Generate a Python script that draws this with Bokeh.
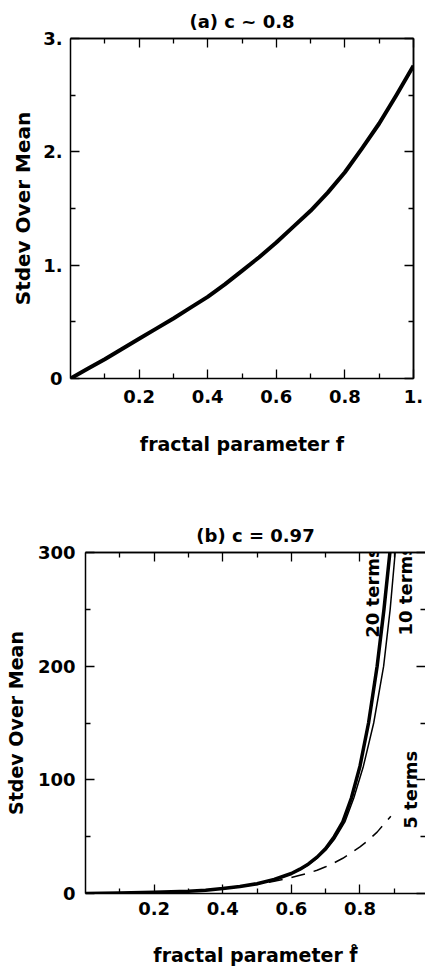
import numpy as np
from bokeh.plotting import figure
from bokeh.models import FixedTicker, LinearAxis, Range1d, Label, ColumnDataSource
from bokeh.embed import file_html
from bokeh.resources import INLINE
from bokeh.core.properties import value

# ---------------- data: panel (a) c ~ 0.8 ----------------
a_f = [0.0, 0.05, 0.1, 0.15, 0.2, 0.25, 0.3, 0.35, 0.4, 0.45, 0.5,
       0.55, 0.6, 0.65, 0.7, 0.75, 0.8, 0.85, 0.9, 0.95, 1.0]
a_ratio = [0.0, 0.085, 0.17, 0.26, 0.35, 0.44, 0.53, 0.625, 0.72, 0.83, 0.95,
           1.07, 1.2, 1.34, 1.48, 1.64, 1.82, 2.03, 2.25, 2.5, 2.76]

a_xticks = [0.2, 0.4, 0.6, 0.8, 1.0]
a_xminor = [0.1, 0.3, 0.5, 0.7, 0.9]
a_yticks = [0, 1, 2, 3]
a_yminor = [0.5, 1.5, 2.5]
a_ylabels = {0: "0", 1: "1.", 2: "2.", 3: "3."}
a_xlabels = {1: "1."}

# ---------------- data: panel (b) c = 0.97 ----------------
b_f20 = [0.0, 0.1, 0.2, 0.3, 0.35, 0.4, 0.45, 0.5, 0.55, 0.6, 0.625, 0.65, 0.675,
         0.7, 0.725, 0.75, 0.775, 0.8, 0.825, 0.85, 0.87, 0.89]
b_r20 = [0.0, 0.5, 1.0, 2.0, 2.9, 4.3, 6.1, 8.6, 12.3, 17.6, 21.4, 26.0, 32.0,
         39.5, 50.0, 63.0, 84.0, 112.0, 150.0, 200.0, 250.0, 308.0]

b_f10 = [0.0, 0.1, 0.2, 0.3, 0.35, 0.4, 0.45, 0.5, 0.55, 0.6, 0.625, 0.65, 0.675,
         0.7, 0.725, 0.756, 0.782, 0.81, 0.84, 0.869, 0.888, 0.905]
b_r10 = [0.0, 0.5, 1.0, 2.0, 2.9, 4.3, 6.0, 8.5, 12.1, 17.2, 21.0, 25.3, 31.0,
         38.0, 47.5, 63.0, 84.0, 112.0, 150.0, 200.0, 250.0, 308.0]

b_f5 = [0.0, 0.1, 0.2, 0.3, 0.4, 0.5, 0.55, 0.6, 0.625, 0.65, 0.675, 0.7, 0.725,
        0.75, 0.775, 0.8, 0.825, 0.85, 0.87, 0.89]
b_r5 = [0.0, 0.5, 1.0, 2.0, 4.2, 8.0, 10.8, 14.0, 16.0, 18.0, 20.5, 23.5, 27.0,
        31.0, 36.0, 41.0, 47.0, 54.0, 61.0, 68.0]

b_xticks = [0.2, 0.4, 0.6, 0.8, 1.0]
b_xminor = [0.1, 0.3, 0.5, 0.7, 0.9]
b_yticks = [0, 100, 200, 300]
b_yminor = [50, 150, 250]

term_text = ["20 terms", "10 terms", "5 terms"]
term_x = [0.837, 0.933, 0.948]
term_y = [225.0, 227.0, 57.0]

FONT = "DejaVu Sans"


def tick_style(ax, tick_len):
    ax.axis_line_width = 1.5
    ax.axis_line_color = "black"
    ax.major_tick_in = 9
    ax.major_tick_out = 0
    ax.minor_tick_in = tick_len
    ax.minor_tick_out = 0
    ax.major_tick_line_width = 1.3
    ax.minor_tick_line_width = 1.3
    ax.major_tick_line_color = "black"
    ax.minor_tick_line_color = "black"


def label_axis(ax, label_size, standoff, title_size, title_standoff):
    tick_style(ax, 5)
    ax.major_label_text_font = FONT
    ax.major_label_text_font_style = "bold"
    ax.major_label_text_font_size = label_size
    ax.major_label_text_color = "black"
    ax.major_label_standoff = standoff
    ax.axis_label_text_font = FONT
    ax.axis_label_text_font_style = "bold"
    ax.axis_label_text_font_size = title_size
    ax.axis_label_text_color = "black"
    ax.axis_label_standoff = title_standoff


def mirror_axes(p, place, majors, minors, show_line=True):
    # major-length ticks, then minor-length ticks, no labels
    ax1 = LinearAxis(ticker=FixedTicker(ticks=[], minor_ticks=majors))
    tick_style(ax1, 9)
    ax2 = LinearAxis(ticker=FixedTicker(ticks=[], minor_ticks=minors))
    tick_style(ax2, 5)
    if not show_line:
        ax1.axis_line_color = None
        ax2.axis_line_color = None
    p.add_layout(ax1, place)
    p.add_layout(ax2, place)


def make_fig(height, top, bottom, left, right, xr, yr, title):
    p = figure(width=425, height=height, x_range=xr, y_range=yr,
               output_backend="svg", toolbar_location=None,
               min_border_top=top, min_border_bottom=bottom,
               min_border_left=left, min_border_right=right,
               x_axis_location=None, y_axis_location=None)
    p.title.text = title
    p.title.align = "center"
    p.title.text_font = FONT
    p.title.text_font_style = "bold"
    p.title.text_font_size = "18px"
    p.title.text_color = "black"
    p.title.standoff = 14
    p.outline_line_color = None
    p.grid.visible = False
    p.background_fill_color = "white"
    p.border_fill_color = "white"
    return p


# ---------------- panel (a) ----------------
pa = make_fig(480, 38, 102, 70, 12, Range1d(0, 1), Range1d(0, 3), "(a) c ~ 0.8")

ax_b = LinearAxis(ticker=FixedTicker(ticks=a_xticks, minor_ticks=a_xminor),
                  major_label_overrides=a_xlabels, axis_label="fractal parameter f")
label_axis(ax_b, "18px", 11, "19px", 27)
pa.add_layout(ax_b, "below")

ax_l = LinearAxis(ticker=FixedTicker(ticks=a_yticks, minor_ticks=a_yminor),
                  major_label_overrides=a_ylabels, axis_label="Stdev Over Mean")
label_axis(ax_l, "18px", 8, "20px", 5)
pa.add_layout(ax_l, "left")

mirror_axes(pa, "above", a_xticks, a_xminor)
mirror_axes(pa, "right", a_yticks, a_yminor)

pa.line(a_f, a_ratio, line_color="black", line_width=4, line_join="round")

# ---------------- panel (b) ----------------
pb = make_fig(493, 72, 80, 85, 0, Range1d(0, 0.991), Range1d(0, 300), "(b) c = 0.97")

bx_b = LinearAxis(ticker=FixedTicker(ticks=b_xticks, minor_ticks=b_xminor),
                  axis_label="fractal parameter f\u030a")
label_axis(bx_b, "18px", 8, "19px", 26)
pb.add_layout(bx_b, "below")

bx_l = LinearAxis(ticker=FixedTicker(ticks=b_yticks, minor_ticks=b_yminor),
                  axis_label="Stdev Over Mean")
label_axis(bx_l, "18px", 10, "19px", 8)
pb.add_layout(bx_l, "left")

mirror_axes(pb, "above", b_xticks, b_xminor)
mirror_axes(pb, "right", b_yticks, b_yminor, show_line=False)

pb.line(b_f5, b_r5, line_color="black", line_width=1.5, line_dash="14 9")
pb.line(b_f10, b_r10, line_color="black", line_width=1.5, line_join="round")
pb.line(b_f20, b_r20, line_color="black", line_width=3.5, line_join="round")

src = ColumnDataSource(dict(x=term_x, y=term_y, t=term_text))
pb.text(x="x", y="y", text="t", source=src, angle=np.pi / 2,
        text_font=value(FONT), text_font_style="bold", text_font_size="18px",
        text_color="black", text_align="left", text_baseline="middle")

one_lbl = Label(x=1.0, y=0, x_units="data", y_units="data", text="1.",
                text_font=FONT, text_font_style="bold", text_font_size="18px",
                text_color="black", text_align="center", text_baseline="top",
                y_offset=-8)
pb.add_layout(one_lbl)

open("out.html", "w").write(file_html([pa, pb], INLINE))
